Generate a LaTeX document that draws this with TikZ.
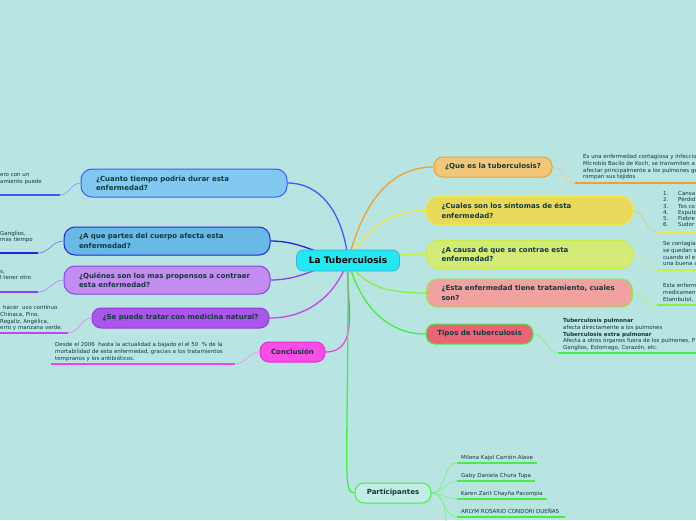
\documentclass[tikz,border=0pt]{standalone}
\usepackage{fontspec}
\setmainfont{DejaVu Sans}
\usetikzlibrary{backgrounds}
\definecolor{tbBack}{HTML}{B8E4E2}
\definecolor{tbText}{HTML}{12393D}
\definecolor{tbRootFill}{HTML}{22E8F2}
\definecolor{tbRootLine}{HTML}{4AA8D8}
\definecolor{tbBlueA}{HTML}{3A5CFF}
\definecolor{tbBlueAFill}{HTML}{82C9F2}
\definecolor{tbBlueB}{HTML}{2424E0}
\definecolor{tbBlueBFill}{HTML}{68B9E6}
\definecolor{tbViolet}{HTML}{8844EE}
\definecolor{tbVioletFill}{HTML}{C38CF0}
\definecolor{tbPurple}{HTML}{C444EE}
\definecolor{tbPurpleLine}{HTML}{9A3DDD}
\definecolor{tbPurpleFill}{HTML}{A957E8}
\definecolor{tbMagenta}{HTML}{EE44EE}
\definecolor{tbMagentaLine}{HTML}{E030D0}
\definecolor{tbMagentaFill}{HTML}{F84EE6}
\definecolor{tbOrange}{HTML}{F0A030}
\definecolor{tbOrangeFill}{HTML}{F2C77A}
\definecolor{tbYellow}{HTML}{F2EA40}
\definecolor{tbYellowFill}{HTML}{E9D95A}
\definecolor{tbLime}{HTML}{CCEE44}
\definecolor{tbLimeFill}{HTML}{D5EB77}
\definecolor{tbGreenA}{HTML}{88EE44}
\definecolor{tbGreenAFill}{HTML}{F2A1A1}
\definecolor{tbGreen}{HTML}{44EE44}
\definecolor{tbTiposFill}{HTML}{EA6475}
\definecolor{tbPartFill}{HTML}{C2ECE6}
\newcommand{\qfont}{\fontsize{7}{9.5}\selectfont\bfseries}
\newcommand{\nfont}{\fontsize{5.5}{6.6}\selectfont}

\begin{document}
\begin{tikzpicture}[x=1pt, y=-1pt,
  rootbox/.style={draw=tbRootLine, fill=tbRootFill, line width=0.8pt, rounded corners=7pt,
    minimum width=103pt, minimum height=21pt, inner sep=0pt, font=\fontsize{9}{11}\selectfont\bfseries, text=black},
  qbox/.style={rounded corners=11pt, line width=1pt, minimum height=28pt, text width=176pt,
    inner xsep=15pt, inner ysep=0pt, align=left, font=\qfont, text=tbText},
  sbox/.style={rounded corners=9pt, line width=1pt, minimum height=20pt, inner sep=0pt,
    align=center, font=\qfont, text=tbText},
  note/.style={inner sep=0pt, align=left, font=\nfont, text=tbText},
  link/.style={line width=1.3pt},
  sub/.style={line width=0.7pt},
  uline/.style={line width=1.8pt}
]
\useasboundingbox (0,0) rectangle (696,520);
\begin{scope}[on background layer]
\fill[tbBack] (0,0) rectangle (696,520);
\end{scope}

\node[rootbox] (root) at (348,260.5) {La Tuberculosis};

\node[qbox, draw=tbBlueA, fill=tbBlueAFill] (duracion) at (184,183) {¿Cuanto tiempo podría durar esta\\enfermedad?};
\node[qbox, draw=tbBlueB, fill=tbBlueBFill] (partes) at (167,241) {¿A que partes del cuerpo afecta esta\\enfermedad?};
\node[qbox, draw=tbViolet, fill=tbVioletFill] (propensos) at (167,280) {¿Quiénes son los mas propensos a contraer\\esta enfermedad?};
\node[sbox, draw=tbPurpleLine, fill=tbPurpleFill, minimum width=177pt] (natural) at (180.5,318) {¿Se puede tratar con medicina natural?};
\node[sbox, draw=tbMagentaLine, fill=tbMagentaFill, minimum width=65pt] (conclusion) at (292.5,352) {Conclusión};
\node[sbox, draw=tbOrange, fill=tbOrangeFill, minimum width=118pt] (que) at (493,167) {¿Que es la tuberculosis?};
\node[qbox, draw=tbYellow, fill=tbYellowFill] (sintomas) at (529.5,210.5) {¿Cuales son los síntomas de ésta\\enfermedad?};
\node[qbox, draw=tbLime, fill=tbLimeFill] (causa) at (529.5,254.5) {¿A causa de que se contrae esta\\enfermedad?};
\node[qbox, draw=tbGreenA, fill=tbGreenAFill] (tratamiento) at (529.5,293) {¿Esta enfermedad tiene tratamiento, cuales\\son?};
\node[sbox, draw=tbGreen, fill=tbTiposFill, minimum width=107pt] (tipos) at (479.5,334) {Tipos de tuberculosis};
\node[sbox, draw=tbGreen, fill=tbPartFill, minimum width=76pt] (participantes) at (393,493) {Participantes};

\begin{scope}
\clip (0,0) rectangle (696,520);
\node[note, anchor=north west] (tDuracion) at (0,173.5) {ero con un\\amiento puede};
\node[note, anchor=north west] (tPartes) at (0,231) {Ganglios,\\mas tiempo};
\node[note, anchor=north west] (tPropensos) at (0,270) {s,\\l tener otro};
\node[note, anchor=north west] (tNatural) at (0,305.5) {\hspace*{3pt}hacer\ \ uso continuo\\Chinaca, Pino,\\Regaliz, Angélica,\\erro y manzana verde.};
\node[note, anchor=north west] (tConclusion) at (55,342.5) {Desde el 2006\ \ hasta la actualidad a bajado el el 50\ \ \% de la\\mortabilidad de esta enfermedad, gracias a los tratamientos\\tempranos y los antibióticos.};
\node[note, anchor=north west] (tQue) at (583,154.5) {Es una enfermedad contagiosa y infeccio\\Microbio Bacilo de Koch, se transmiten a\\afectar principalmente a los pulmones ge\\rompan sus tejidos};
\node[note, anchor=north west, font=\fontsize{5.5}{6.2}\selectfont] (tSintomas) at (663,191.5) {\makebox[15pt][l]{1.}Cansa\\\makebox[15pt][l]{2.}Pérdid\\\makebox[15pt][l]{3.}Tos co\\\makebox[15pt][l]{4.}Esputo\\\makebox[15pt][l]{5.}Fiebre\\\makebox[15pt][l]{6.}Sudor};
\node[note, anchor=north west] (tCausa) at (663,241.5) {Se contagia\\se quedan s\\cuando el e\\una buena a};
\node[note, anchor=north west] (tTratamiento) at (663,283.5) {Esta enferm\\medicament\\Etambutol,};
\node[note, anchor=north west] (tTipos) at (563,318.5) {\textbf{Tuberculosis pulmonar}\\afecta directamente a los pulmones\\\textbf{Tuberculosis extra pulmonar}\\Afecta a otros órganos fuera de los pulmones, P\\Ganglios, Estomago, Corazón, etc.};
\end{scope}

\node[note, anchor=base west] (p1) at (461,459.5) {Milena Kajol Carrión Alave};
\node[note, anchor=base west] (p2) at (461,477.5) {Gaby Daniela Chura Tupa};
\node[note, anchor=base west] (p3) at (461,495.5) {Karen Zarit Chayña Pacompia};
\node[note, anchor=base west] (p4) at (461,513.5) {ARLYM ROSARIO CONDORI DUEÑAS};

\coordinate (uDur) at (60,195);      \coordinate (uDurEnd) at (0,195);
\coordinate (uPar) at (38,253);      \coordinate (uParEnd) at (0,253);
\coordinate (uPro) at (38,292);      \coordinate (uProEnd) at (0,292);
\coordinate (uNat) at (68,333);      \coordinate (uNatEnd) at (0,333);
\coordinate (uCon) at (235,364);     \coordinate (uConEnd) at (51,364);
\coordinate (uQue) at (575,183);     \coordinate (uQueEnd) at (696,183);
\coordinate (uSin) at (657,232);     \coordinate (uSinEnd) at (696,232);
\coordinate (uCau) at (657,270);     \coordinate (uCauEnd) at (696,270);
\coordinate (uTra) at (657,305);     \coordinate (uTraEnd) at (696,305);
\coordinate (uTip) at (558,353);     \coordinate (uTipEnd) at (696,353);
\coordinate (uP1) at (457,463);      \coordinate (uP1End) at (537,463);
\coordinate (uP2) at (457,481);      \coordinate (uP2End) at (535,481);
\coordinate (uP3) at (457,499);      \coordinate (uP3End) at (547,499);
\coordinate (uP4) at (457,517);      \coordinate (uP4End) at (565,517);
\coordinate (uP5) at (446,521);

\begin{scope}[on background layer]
\draw[link, tbBlueA] (duracion.east) to[out=0, in=95] (root.center);
\draw[link, tbBlueB] (partes.east) to[out=0, in=170] (root.center);
\draw[link, tbViolet] (propensos.east) to[out=0, in=190] (root.center);
\draw[link, tbPurple] (natural.east) to[out=0, in=-110] (root.center);
\draw[link, tbMagenta] (conclusion.east) to[out=0, in=-95] (root.center);
\draw[link, tbOrange] (que.west) to[out=180, in=75] (root.center);
\draw[link, tbYellow] (sintomas.west) to[out=180, in=60] (root.center);
\draw[link, tbLime] (causa.west) to[out=180, in=10] (root.center);
\draw[link, tbGreenA] (tratamiento.west) to[out=180, in=-60] (root.center);
\draw[link, tbGreen] (tipos.west) to[out=180, in=-75] (root.center);
\draw[link, tbGreen] (root.center) .. controls +(0,215) and +(-12,0) .. (participantes.west);

\draw[sub, tbBlueA!60] (duracion.west) to[out=180, in=0] (uDur);
\draw[uline, tbBlueA] (uDur) -- (uDurEnd);
\draw[sub, tbBlueB!60] (partes.west) to[out=180, in=0] (uPar);
\draw[uline, tbBlueB] (uPar) -- (uParEnd);
\draw[sub, tbViolet!60] (propensos.west) to[out=180, in=0] (uPro);
\draw[uline, tbViolet] (uPro) -- (uProEnd);
\draw[sub, tbPurple!60] (natural.west) to[out=180, in=0] (uNat);
\draw[uline, tbPurple] (uNat) -- (uNatEnd);
\draw[sub, tbMagenta!60] (conclusion.west) to[out=180, in=0] (uCon);
\draw[uline, tbMagenta] (uCon) -- (uConEnd);
\draw[sub, tbOrange!60] (que.east) to[out=0, in=180] (uQue);
\draw[uline, tbOrange] (uQue) -- (uQueEnd);
\draw[sub, tbYellow!80!black!70] (sintomas.east) to[out=0, in=180] (uSin);
\draw[uline, tbYellow] (uSin) -- (uSinEnd);
\draw[sub, tbLime!70] (causa.east) to[out=0, in=180] (uCau);
\draw[uline, tbLime] (uCau) -- (uCauEnd);
\draw[sub, tbGreenA!70] (tratamiento.east) to[out=0, in=180] (uTra);
\draw[uline, tbGreenA] (uTra) -- (uTraEnd);
\draw[sub, tbGreen!70] (tipos.east) to[out=0, in=180] (uTip);
\draw[uline, tbGreen] (uTip) -- (uTipEnd);
\draw[sub, tbGreen!70] (participantes.east) to[out=0, in=180] (uP1);
\draw[uline, tbGreen] (uP1) -- (uP1End);
\draw[sub, tbGreen!70] (participantes.east) to[out=0, in=180] (uP2);
\draw[uline, tbGreen] (uP2) -- (uP2End);
\draw[sub, tbGreen!70] (participantes.east) to[out=0, in=180] (uP3);
\draw[uline, tbGreen] (uP3) -- (uP3End);
\draw[sub, tbGreen!70] (participantes.east) to[out=0, in=180] (uP4);
\draw[uline, tbGreen] (uP4) -- (uP4End);
\draw[sub, tbGreen!70] (participantes.east) to[out=0, in=95] (uP5);
\end{scope}
\end{tikzpicture}
\end{document}
